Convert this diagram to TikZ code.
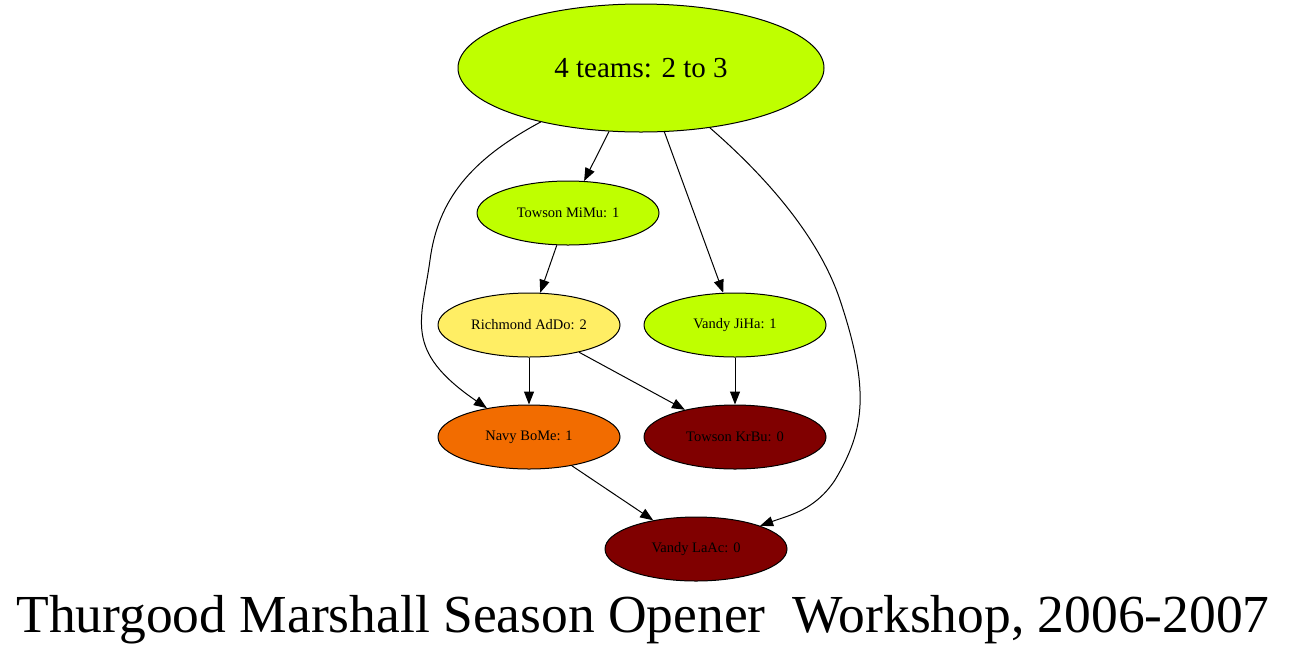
\documentclass[tikz,border=0pt]{standalone}
\usepackage{fontspec}
\setmainfont{Liberation Serif}
\usetikzlibrary{shapes.geometric,arrows.meta}
\definecolor{teamgreen}{RGB}{191,255,0}
\definecolor{teamyellow}{RGB}{255,238,100}
\definecolor{teamorange}{RGB}{242,108,0}
\definecolor{teamred}{RGB}{128,0,0}
\begin{document}
\begin{tikzpicture}[x=1pt,y=-1pt,
    team/.style={ellipse,draw,line width=1pt,inner sep=0pt,minimum width=182pt,minimum height=64pt,font=\fontsize{14.5}{17}\selectfont},
    edge/.style={line width=1pt,-{Triangle[length=13pt,width=10pt]}}]
    \useasboundingbox (0,0) rectangle (1289,657);
    \node[team,fill=teamgreen,minimum width=366pt,minimum height=128pt,font=\fontsize{29}{34}\selectfont] (all) at (641,68) {4 teams: 2 to 3};
    \node[team,fill=teamgreen] (mimu) at (568,213) {Towson MiMu: 1};
    \node[team,fill=teamyellow] (addo) at (529,325) {Richmond AdDo: 2};
    \node[team,fill=teamgreen] (jiha) at (735,325) {Vandy JiHa: 1};
    \node[team,fill=teamorange] (bome) at (529,437) {Navy BoMe: 1};
    \node[team,fill=teamred] (krbu) at (735,437) {Towson KrBu: 0};
    \node[team,fill=teamred] (laac) at (696,549) {Vandy LaAc: 0};
    \node[font=\fontsize{53.5}{62}\selectfont] (title) at (643,620) {Thurgood Marshall Season Opener\ \ Workshop, 2006-2007};
    % edges
    \draw[edge] (all) -- (mimu);
    \draw[edge] (all) -- (jiha);
    \draw[edge] (all) .. controls (470,160) and (438,200) .. (430,260) .. controls (422,320) and (402,350) .. (bome);
    \draw[edge] (all) .. controls (770,180) and (820,240) .. (840,300) .. controls (870,390) and (865,430) .. (835,480) .. controls (815,510) and (790,515) .. (laac);
    \draw[edge] (mimu) -- (addo);
    \draw[edge] (addo) -- (bome);
    \draw[edge] (addo) -- (krbu);
    \draw[edge] (jiha) -- (krbu);
    \draw[edge] (bome) -- (laac);
\end{tikzpicture}
\end{document}
